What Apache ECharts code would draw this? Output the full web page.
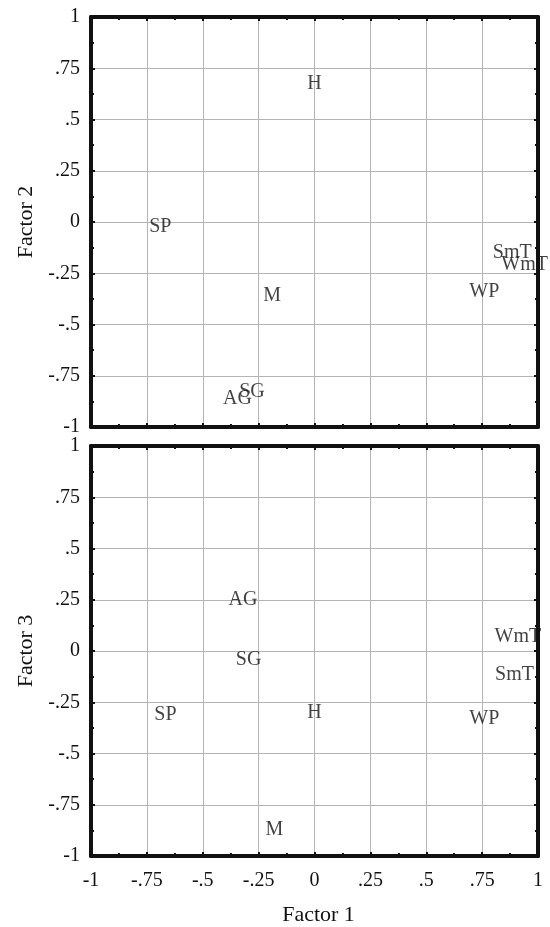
<!DOCTYPE html>
<html>
<head>
<meta charset="utf-8">
<script src="https://cdn.jsdelivr.net/npm/echarts@6/dist/echarts.min.js"></script>
<style>html,body{margin:0;padding:0;background:#fff;}#c{width:550px;height:927px;}</style>
</head>
<body>
<div id="c"></div>
<script>
// Variable names (point labels)
var names = ['H', 'SP', 'M', 'SmT', 'WmT', 'WP', 'SG', 'AG'];
// Factor 1 as placed in the upper panel
var factor1Top = [0.0, -0.69, -0.19, 0.885, 0.94, 0.76, -0.28, -0.345];
// Factor 2 (upper panel)
var factor2 = [0.673, -0.024, -0.36, -0.15, -0.21, -0.34, -0.83, -0.86];
// Factor 1 as placed in the lower panel
var factor1Bottom = [0.0, -0.667, -0.18, 0.895, 0.91, 0.76, -0.295, -0.32];
// Factor 3 (lower panel)
var factor3 = [-0.30, -0.31, -0.87, -0.117, 0.07, -0.33, -0.045, 0.25];
// Axis range and tick step
var axisMin = -1, axisMax = 1, axisStep = 0.25;

var FONT = 'Liberation Serif';
var TXT = '#111';

function fmt(v) {
  if (Math.abs(v) < 1e-9) return '0';
  return String(+v.toFixed(2)).replace(/^(-?)0\./, '$1.');
}

function mkAxis(opts) {
  var a = {
    type: 'value', min: axisMin, max: axisMax, interval: axisStep,
    gridIndex: opts.grid, position: opts.position,
    axisLine: { show: true, onZero: false, lineStyle: { color: '#111', width: 4 } },
    axisTick: { show: true, inside: true, length: 4, lineStyle: { color: '#111', width: 2 } },
    minorTick: { show: true, splitNumber: 2, length: 3, lineStyle: { color: '#111', width: 2 } },
    splitLine: { show: !!opts.split, showMinLine: false, showMaxLine: false, lineStyle: { color: '#b4b4b4', width: 1 } },
    minorSplitLine: { show: false },
    axisLabel: { show: !!opts.labels, formatter: fmt, fontFamily: FONT, fontSize: 20, color: TXT, margin: opts.margin || 11 }
  };
  if (opts.name) {
    a.name = opts.name;
    a.nameLocation = 'middle';
    a.nameGap = opts.nameGap;
    a.nameTextStyle = { fontFamily: FONT, fontSize: 22, color: TXT, padding: opts.namePad || 0 };
  }
  return a;
}

function mkData(xs, ys) {
  return names.map(function (n, i) { return { name: n, value: [xs[i], ys[i]] }; });
}

function mkSeries(xi, yi, xs, ys) {
  return {
    type: 'scatter', xAxisIndex: xi, yAxisIndex: yi,
    symbolSize: 1, itemStyle: { color: 'rgba(0,0,0,0)' },
    label: { show: true, position: 'inside', formatter: '{b}', fontFamily: FONT, fontSize: 20, color: TXT },
    emphasis: { disabled: true },
    silent: true, animation: false,
    data: mkData(xs, ys)
  };
}

var chart = echarts.init(document.getElementById('c'), null, { renderer: 'canvas' });
chart.setOption({
  backgroundColor: '#fff',
  animation: false,
  grid: [
    { left: 91, top: 17, width: 447, height: 410 },
    { left: 91, top: 446, width: 447, height: 411 }
  ],
  xAxis: [
    mkAxis({ grid: 0, position: 'bottom', split: true }),
    mkAxis({ grid: 0, position: 'top' }),
    mkAxis({ grid: 1, position: 'bottom', split: true, labels: true, margin: 15, name: 'Factor 1', nameGap: 48, namePad: [0, 0, 0, 8] }),
    mkAxis({ grid: 1, position: 'top' })
  ],
  yAxis: [
    mkAxis({ grid: 0, position: 'left', split: true, labels: true, name: 'Factor 2', nameGap: 52 }),
    mkAxis({ grid: 0, position: 'right' }),
    mkAxis({ grid: 1, position: 'left', split: true, labels: true, name: 'Factor 3', nameGap: 52 }),
    mkAxis({ grid: 1, position: 'right' })
  ],
  series: [
    mkSeries(0, 0, factor1Top, factor2),
    mkSeries(2, 2, factor1Bottom, factor3)
  ]
});
</script>
</body>
</html>
